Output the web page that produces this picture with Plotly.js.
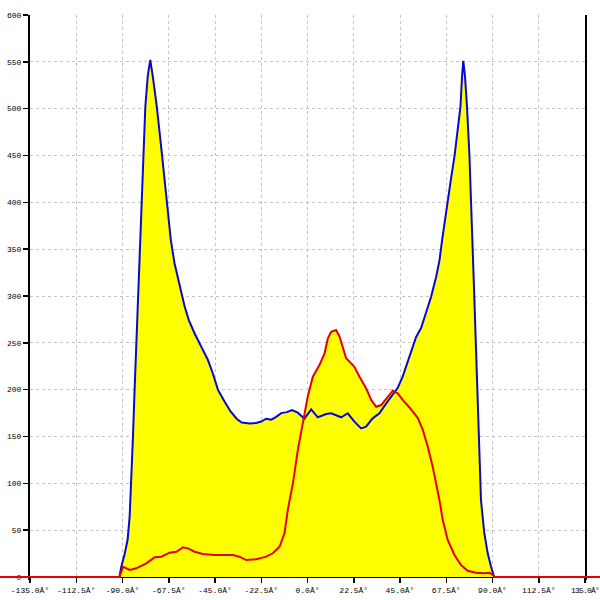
<!DOCTYPE html>
<html>
<head>
<meta charset="utf-8">
<script src="https://cdn.plot.ly/plotly-3.0.1.min.js"></script>
<style>html,body{margin:0;padding:0;background:#fff;}#chart{width:600px;height:600px;}
.xtick:last-of-type text{letter-spacing:-0.8px;}</style>
</head>
<body>
<div id="chart"></div>
<script>
// Angle (degrees) and counts for the blue envelope series
var blueX = [-91.5,-90.6,-89,-87.5,-86.5,-85.7,-84.9,-84.3,-83,-81.3,-80.2,-78.9,-77.7,-76.5,-75.3,-73.3,-70.7,-68.5,-66.5,-64.7,-62.2,-59.8,-57.7,-54.9,-51.7,-48.5,-46,-43.6,-40.3,-37.5,-34.5,-32,-28.2,-25,-22.5,-20.1,-17.6,-15.2,-12.8,-10,-7.6,-4.7,-1.5,1.8,5,7,9.1,11.5,13.9,16.4,19.6,22.8,26.1,28.5,31.7,35,38.3,41.5,43.9,46.3,49.6,52.8,55.3,57.5,60.1,62.6,64.2,65.5,66.8,68.2,69.8,71.5,73,74.4,75.2,75.8,76.6,77.6,78.8,79.6,80.4,81.2,82,82.8,83.6,84.4,86,87.7,89.3,90.4,90.8];
var blueY = [0,11,24,40,65,100,150,189,260,360,430,502,535,552,535,502,449,400,360,335,310,289,274,260,246,232,217,200,187,177,169,165,164,164.5,166,169,168,171,175,176,178.3,175.4,169,179,170.5,172,174,174.8,173,170.5,174.8,165.8,158.7,160.5,169.4,174.8,185.4,194.3,202,214,235,256,266,281,299,320.6,338,360,381,402,425,449,475,502,535,551,535,502,449,402,364,296,242,189,136,82,47,25,11,2,0];
// Angle (degrees) and counts for the red series
var redX = [-150,-91.4,-89.8,-86.5,-83.3,-78.4,-74.4,-71.1,-67.1,-63.8,-60.6,-58.2,-54.9,-50.9,-45.2,-36.3,-33.1,-29.8,-24.9,-20.1,-16.9,-13.6,-11.2,-9.6,-7.1,-4.7,-2.3,0.1,2.6,5.8,8.3,9.9,11.5,13.9,15.6,17.2,18.8,20.4,22.8,25.3,28.5,31,33.4,35.8,38.3,41.5,43.9,46.3,49.6,53.6,56.1,58.5,60.9,62.6,64.2,65.8,68.2,71.5,74.7,77.9,82,86,88.5,90.4,91,150];
var redY = [0,0,11,7.5,9.3,14.6,21,21.7,26,27,31.7,30.6,27,24.5,23.5,23.5,21.7,18.1,18.9,21.7,25.3,32.3,46.6,71.5,100,135.6,164,192.5,213.8,226.3,238.8,254.8,261.9,263.7,256.5,245.9,233.5,229.9,224.5,213.8,201.5,189,181.8,183.6,190.8,198.9,196.1,189,181,170,157,139,117.8,100,82,60.9,39.5,23.5,12.8,6.7,4.6,3.9,4.6,2,0,0];
// Tick values and labels
var xTickVals = [-135,-112.5,-90,-67.5,-45,-22.5,0,22.5,45,67.5,90,112.5,135];
var xTickText = ["-135.0Â°","-112.5Â°","-90.0Â°","-67.5Â°","-45.0Â°","-22.5Â°","0.0Â°","22.5Â°","45.0Â°","67.5Â°","90.0Â°","112.5Â°","135.0Â°"];
var yTickVals = [0,50,100,150,200,250,300,350,400,450,500,550,600];

var xRange = [-135, 135];
var xDomain = [30/600, 585/600];
var yDomain = [(600-579.81)/600, 585/600];
var yRange = [-3, 600];
// Full-width companion axis aligned with the main one
var pxPerUnit = (xDomain[1]-xDomain[0])*600/(xRange[1]-xRange[0]);
var x2Range = [xRange[0] - xDomain[0]*600/pxPerUnit, xRange[1] + (1-xDomain[1])*600/pxPerUnit];

var tickFont = {family: "Liberation Mono, DejaVu Sans Mono, monospace", size: 8, color: "#000"};
var gridCol = "#c4c4c4";

var traces = [
  {x: redX, y: redY, type: "scatter", mode: "none", fill: "tozeroy", fillcolor: "#ffff00", xaxis: "x", yaxis: "y", hoverinfo: "skip"},
  {x: blueX, y: blueY, type: "scatter", mode: "lines", fill: "tozeroy", fillcolor: "#ffff00",
   line: {color: "#0808d0", width: 2}, xaxis: "x", yaxis: "y", hoverinfo: "skip"},
  {x: redX, y: redY, type: "scatter", mode: "lines", line: {color: "#e60000", width: 2},
   xaxis: "x2", yaxis: "y2", hoverinfo: "skip"}
];

var layout = {
  width: 600, height: 600,
  margin: {l: 0, r: 0, t: 0, b: 0},
  paper_bgcolor: "#ffffff", plot_bgcolor: "rgba(0,0,0,0)",
  showlegend: false,
  xaxis: {
    domain: xDomain, range: xRange, anchor: "free", position: 23/600,
    tickmode: "array", tickvals: xTickVals, ticktext: xTickText,
    ticks: "outside", ticklen: 5, tickwidth: 1.5, tickcolor: "#000",
    showline: true, linecolor: "#000", linewidth: 2,
    showgrid: true, gridcolor: gridCol, gridwidth: 1, griddash: "3px,3px",
    zeroline: false, layer: "below traces", tickfont: tickFont, fixedrange: true,
    ticklabeloverflow: "allow"
  },
  yaxis: {
    domain: yDomain, range: yRange, anchor: "x",
    tickmode: "array", tickvals: yTickVals,
    ticks: "outside", ticklen: 5, tickwidth: 1.5, tickcolor: "#000",
    showline: true, linecolor: "#000", linewidth: 2, mirror: true,
    showgrid: true, gridcolor: gridCol, gridwidth: 1, griddash: "3px,3px",
    zeroline: false, layer: "below traces", tickfont: tickFont, fixedrange: true,
    ticklabeloverflow: "allow"
  },
  xaxis2: {domain: [0, 1], range: x2Range, anchor: "y2", visible: false, showgrid: false, zeroline: false, fixedrange: true},
  yaxis2: {domain: yDomain, range: yRange, anchor: "x2", visible: false, showgrid: false, zeroline: false, fixedrange: true}
};

Plotly.newPlot("chart", traces, layout, {staticPlot: true, displayModeBar: false});
</script>
</body>
</html>
